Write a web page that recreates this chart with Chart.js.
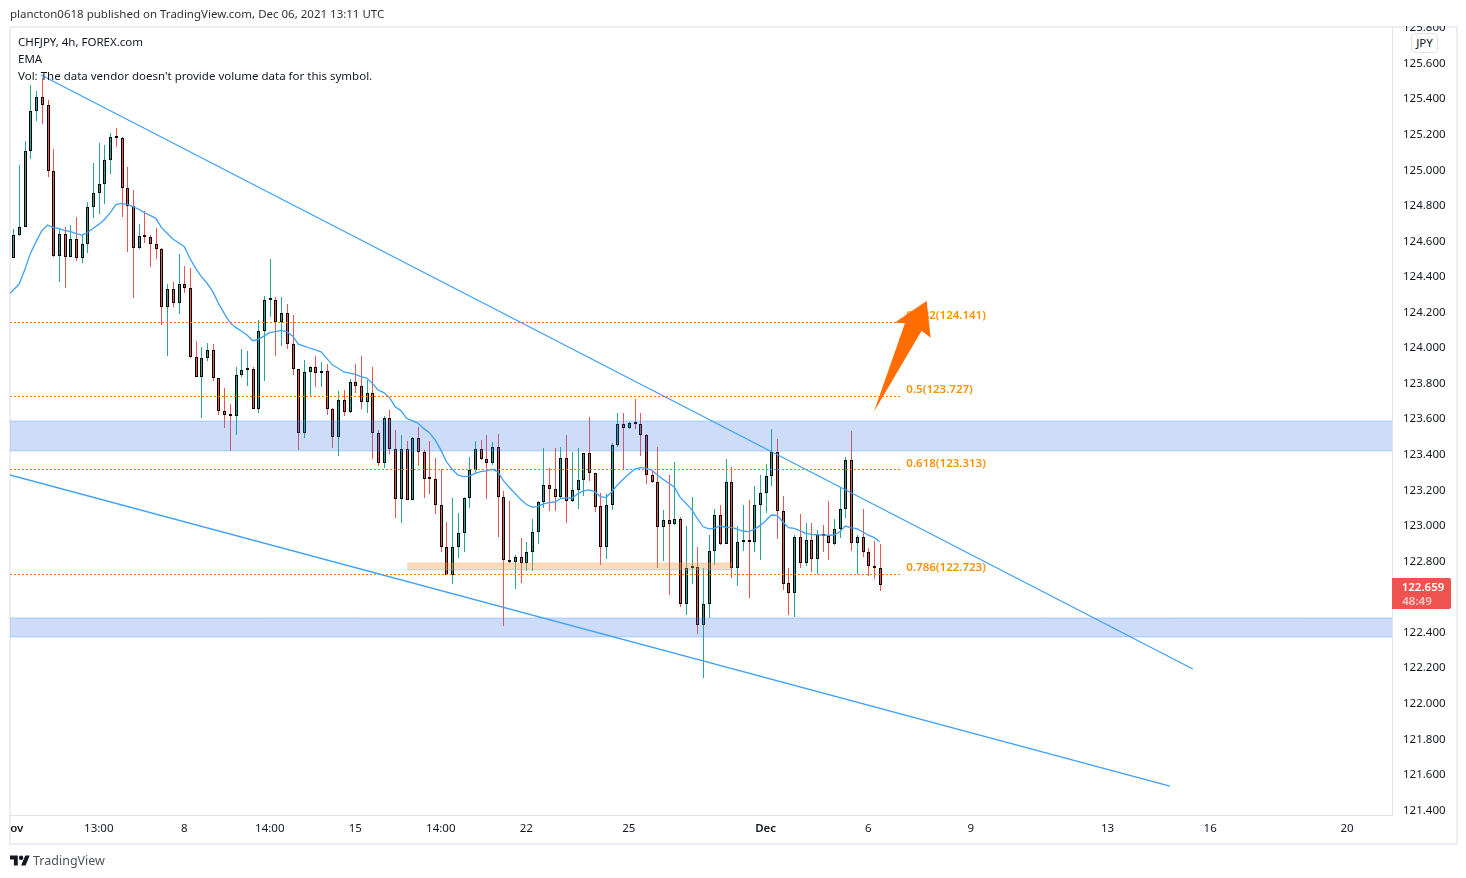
<!DOCTYPE html>
<html>
<head>
<meta charset="utf-8">
<title>CHFJPY</title>
<script src="https://cdn.jsdelivr.net/npm/chart.js@4/dist/chart.umd.min.js"></script>
<style>
html, body { margin: 0; padding: 0; background: #fff; }
body { width: 1466px; height: 878px; position: relative; overflow: hidden; font-family: "Noto Sans", sans-serif; color: #131722; font-size: 11.5px; }
canvas { position: absolute; left: 0; top: 0; }
.txt { position: absolute; white-space: nowrap; line-height: 16px; z-index: 5; }
#frame { position: absolute; left: 9px; top: 26px; width: 1445px; height: 815px; border: 2px solid #eceef3; z-index: 0; }
#cover { position: absolute; left: 1393px; top: 0; width: 64px; height: 26px; background: #fff; z-index: 3; }
#cur { position: absolute; left: 1411px; top: 33px; width: 25px; height: 18px; line-height: 18px; text-align: center; background: #fff; border: 1px solid #e0e3eb; border-radius: 4px; z-index: 5; }
</style>
</head>
<body>
<div id="frame"></div>
<canvas id="chart" width="1466" height="878"></canvas>
<div id="cover"></div>
<div class="txt" style="left:10px;top:6px;color:#333">plancton0618 published on TradingView.com, Dec 06, 2021 13:11 UTC</div>
<div class="txt" style="left:18px;top:34px">CHFJPY, 4h, FOREX.com</div>
<div class="txt" style="left:18px;top:51px">EMA</div>
<div class="txt" style="left:18px;top:68px">Vol: The data vendor doesn't provide volume data for this symbol.</div>
<div id="cur">JPY</div>
<svg style="position:absolute;left:10px;top:854px;z-index:5" width="20" height="13" viewBox="0 3 36 20"><path fill="#131722" d="M14 22H7V11H0V4h14v18zM28 22h-8l7.5-18h8L28 22z"/><circle fill="#131722" cx="20" cy="8" r="4"/></svg>
<div class="txt" style="left:33px;top:853px;font-size:12.5px;color:#50535e">TradingView</div>
<script>
const openValues = [124.500,124.625,124.670,125.098,125.323,125.401,125.356,124.985,124.507,124.631,
  124.502,124.603,124.496,124.575,124.783,124.862,124.912,125.047,125.176,125.171,
  124.890,124.790,124.552,124.620,124.614,124.575,124.547,124.221,124.322,124.243,
  124.350,124.327,123.939,123.827,123.934,123.979,123.821,123.636,123.617,123.608,
  123.838,123.866,123.872,123.647,124.086,124.260,124.260,124.136,124.187,124.013,
  123.872,123.512,123.855,123.883,123.850,123.861,123.647,123.490,123.698,123.630,
  123.799,123.777,123.687,123.737,123.512,123.344,123.597,123.424,123.145,123.422,
  123.139,123.484,123.405,123.258,123.257,123.111,122.875,122.717,122.871,122.950,
  123.147,123.304,123.422,123.366,123.347,123.433,123.152,122.802,122.787,122.815,
  122.781,122.843,122.955,123.124,123.220,123.197,123.156,123.372,123.130,123.192,
  123.248,123.400,123.287,123.102,122.875,123.107,123.445,123.563,123.540,123.568,
  123.563,123.501,123.276,123.237,122.984,123.023,123.001,123.029,122.551,122.753,
  122.759,122.433,122.551,122.849,123.051,122.888,123.237,122.757,122.899,122.910,
  122.899,123.107,123.175,123.270,123.405,123.074,122.669,122.612,122.927,122.785,
  122.910,122.804,122.938,122.933,122.890,122.972,123.085,123.360,122.894,122.927,
  122.843,122.764,122.753];
const highValues = [124.659,125.021,125.156,125.471,125.437,125.508,125.386,125.109,124.659,124.670,
  124.683,124.728,124.627,124.811,125.032,125.145,125.133,125.199,125.227,125.176,
  125.008,124.878,124.687,124.760,124.625,124.665,124.554,124.352,124.363,124.521,
  124.453,124.442,124.031,123.996,124.020,124.014,123.821,123.767,123.677,123.885,
  123.986,123.975,123.883,124.148,124.283,124.492,124.279,124.279,124.239,124.178,
  123.872,123.925,123.889,123.947,123.913,123.900,123.653,123.750,123.756,123.816,
  123.902,123.947,123.812,123.885,123.529,123.610,123.643,123.529,123.501,123.469,
  123.494,123.548,123.419,123.469,123.372,123.310,123.014,123.149,123.064,123.154,
  123.379,123.469,123.475,123.501,123.464,123.507,123.186,123.132,122.828,122.922,
  122.899,123.031,123.132,123.428,123.315,123.428,123.435,123.501,123.407,123.430,
  123.400,123.604,123.287,123.175,123.169,123.458,123.626,123.626,123.574,123.705,
  123.626,123.508,123.306,123.435,123.081,123.278,123.351,123.042,122.991,123.154,
  122.873,122.755,122.941,123.087,123.109,123.368,123.323,122.991,123.109,123.137,
  123.216,123.278,123.340,123.536,123.480,123.160,122.755,122.940,123.058,123.008,
  123.008,122.968,122.997,123.132,123.030,123.210,123.379,123.525,122.938,123.087,
  122.867,122.907,122.890];
const lowValues = [124.496,124.624,124.670,125.057,125.268,125.253,124.955,124.506,124.365,124.331,
  124.502,124.483,124.472,124.528,124.725,124.747,124.802,124.972,125.124,124.730,
  124.534,124.275,124.549,124.584,124.449,124.491,124.121,123.947,124.224,124.183,
  124.303,123.934,123.827,123.600,123.919,123.808,123.615,123.544,123.415,123.503,
  123.831,123.780,123.647,123.628,123.808,124.168,123.947,124.005,123.988,123.842,
  123.419,123.488,123.722,123.773,123.773,123.617,123.430,123.387,123.612,123.628,
  123.737,123.651,123.628,123.366,123.330,123.319,123.396,123.036,123.008,123.137,
  123.137,123.329,123.149,123.171,123.059,122.845,122.716,122.665,122.813,122.845,
  123.092,123.287,123.362,123.143,123.334,122.929,122.429,122.783,122.637,122.671,
  122.738,122.738,122.890,123.092,123.077,123.075,123.147,123.008,123.128,123.087,
  123.160,123.246,123.072,122.772,122.806,123.081,123.437,123.312,123.535,123.537,
  123.385,123.227,123.233,122.755,122.794,122.603,122.999,122.536,122.491,122.665,
  122.384,122.137,122.474,122.772,122.884,122.888,122.699,122.654,122.850,122.586,
  122.845,122.800,123.064,123.216,122.918,122.631,122.491,122.479,122.755,122.766,
  122.732,122.719,122.845,122.800,122.884,122.923,123.036,122.850,122.721,122.817,
  122.710,122.693,122.626];
const closeValues = [124.625,124.670,125.098,125.323,125.401,125.356,124.985,124.507,124.631,124.502,
  124.603,124.496,124.575,124.783,124.862,124.912,125.047,125.176,125.171,124.890,
  124.790,124.552,124.620,124.614,124.575,124.547,124.221,124.322,124.243,124.350,
  124.327,123.939,123.827,123.934,123.979,123.821,123.636,123.617,123.608,123.838,
  123.866,123.872,123.647,124.086,124.260,124.262,124.136,124.187,124.013,123.872,
  123.512,123.855,123.883,123.850,123.861,123.647,123.490,123.698,123.630,123.799,
  123.777,123.687,123.737,123.512,123.344,123.597,123.424,123.145,123.422,123.139,
  123.484,123.405,123.257,123.257,123.111,122.875,122.717,122.871,122.950,123.147,
  123.304,123.422,123.366,123.347,123.433,123.152,122.802,122.787,122.815,122.781,
  122.843,122.955,123.124,123.220,123.197,123.156,123.372,123.130,123.192,123.248,
  123.400,123.287,123.100,122.875,123.107,123.445,123.563,123.540,123.568,123.563,
  123.501,123.276,123.237,122.984,123.023,123.001,123.029,122.551,122.753,122.759,
  122.433,122.551,122.849,123.051,122.888,123.237,122.757,122.899,122.910,122.899,
  123.107,123.175,123.270,123.407,123.074,122.667,122.612,122.927,122.785,122.910,
  122.804,122.938,122.933,122.894,122.972,123.085,123.360,122.894,122.927,122.843,
  122.764,122.753,122.659];
const emaValues = [124.318,124.350,124.431,124.524,124.590,124.652,124.684,124.669,124.665,124.652,
  124.648,124.635,124.627,124.640,124.665,124.687,124.715,124.753,124.798,124.805,
  124.800,124.787,124.772,124.753,124.738,124.721,124.669,124.637,124.605,124.584,
  124.562,124.496,124.440,124.393,124.356,124.309,124.243,124.187,124.136,124.108,
  124.088,124.065,124.033,124.041,124.060,124.078,124.084,124.091,124.084,124.060,
  124.014,124.003,123.992,123.981,123.970,123.934,123.896,123.878,123.857,123.851,
  123.844,123.831,123.823,123.793,123.756,123.741,123.713,123.662,123.640,123.597,
  123.584,123.569,123.540,123.516,123.475,123.419,123.353,123.310,123.278,123.269,
  123.272,123.287,123.297,123.301,123.310,123.297,123.246,123.209,123.175,123.141,
  123.113,123.098,123.100,123.115,123.122,123.126,123.145,123.149,123.147,123.171,
  123.188,123.194,123.184,123.156,123.151,123.184,123.222,123.254,123.284,123.310,
  123.319,123.316,123.306,123.278,123.254,123.231,123.209,123.152,123.119,123.085,
  123.034,122.988,122.975,122.978,122.991,122.984,122.983,122.974,122.963,122.959,
  122.972,122.993,123.021,123.053,123.051,123.015,122.982,122.978,122.965,122.950,
  122.944,122.942,122.940,122.939,122.940,122.959,122.991,122.981,122.976,122.959,
  122.940,122.927,122.903];
const emaStart = 124.299;

const priceTicks = [121.4,121.6,121.8,122,122.2,122.4,122.6,122.8,123,123.2,123.4,123.6,123.8,124,124.2,124.4,124.6,124.8,125,125.2,125.4,125.6,125.8];
const timeTicks = [0.6,15,30,45,60,75,90,108,132,150,168,192,210,234];
const timeLabels = ['ov','13:00','8','14:00','15','14:00','22','25','Dec','6','9','13','16','20'];

const fibLevels = [124.141,123.727,123.313,122.723];
const fibNames = ['0.382','0.5','0.618','0.786'];
const upperTrend = [[4.86,125.527],[206.96,122.187]];
const lowerTrend = [[-0.58,123.278],[202.93,121.529]];
const zoneUpper = [123.5815,123.413];
const zoneLower = [122.474,122.367];
const zoneOrange = [122.783,122.744];
const orangeFrom = 69.1, orangeTo = 126.1;
const arrowShape = [[160.25,124.256],[154.68,124.136],[156.44,124.131],[151.0,123.634],[159.37,124.089],[160.95,124.050]];
const lastPrice = '122.659', countdown = '48:49';

const X_MIN = -0.58, X_MAX = 241.9, Y_MIN = 121.366, Y_MAX = 125.797, FIB_END = 155.9;
const UP = '#26a69a', DOWN = '#ef5350', LINE = '#3fa0f5', ORANGE = '#f57c00', FIB_TEXT = '#ff9100';
const TICK_FONT = 'Noto Sans';

const isUp = i => closeValues[i] >= openValues[i];
const pts = pairs => pairs.map(p => ({ x: p[0], y: p[1] }));

const wickSet = {
  type: 'bar', order: 5, grouped: false, barThickness: 1, inflateAmount: 0,
  data: highValues.map((h, i) => ({ x: i, y: [lowValues[i], h] })),
  backgroundColor: highValues.map((h, i) => isUp(i) ? UP : DOWN),
  borderWidth: 0
};
const bodySet = {
  type: 'bar', order: 4, grouped: false, barThickness: 3, minBarLength: 2, inflateAmount: 0,
  data: openValues.map((o, i) => ({ x: i, y: [o, closeValues[i]] })),
  backgroundColor: openValues.map((o, i) => isUp(i) ? UP : DOWN),
  borderColor: '#000', borderWidth: 1, borderSkipped: false
};
function lineSet(points, color, extra) {
  return Object.assign({ type: 'line', order: 1, data: pts(points), borderColor: color, borderWidth: 1.3, pointRadius: 0, tension: 0, fill: false }, extra || {});
}
function zoneSets(range, from, to, edge, fillColor) {
  return [
    lineSet([[from, range[0]], [to, range[0]]], edge, { order: 2, borderWidth: 1, fill: '+1', backgroundColor: fillColor }),
    lineSet([[from, range[1]], [to, range[1]]], edge, { order: 2, borderWidth: 1 })
  ];
}

const datasets = [
  wickSet, bodySet,
  ...zoneSets(zoneUpper, X_MIN, X_MAX, 'rgba(66,150,245,0.35)', 'rgba(55,119,231,0.25)'),
  ...zoneSets(zoneLower, X_MIN, X_MAX, 'rgba(66,150,245,0.35)', 'rgba(55,119,231,0.25)'),
  ...zoneSets(zoneOrange, orangeFrom, orangeTo, 'rgba(245,160,80,0.35)', 'rgba(245,150,60,0.35)'),
  ...fibLevels.map(v => lineSet([[X_MIN, v], [FIB_END, v]], ORANGE, { order: 3, borderWidth: 1, borderDash: [2, 2], snapRow: true })),
  lineSet([[X_MIN, emaStart]].concat(emaValues.map((v, i) => [i, v])), LINE),
  lineSet(upperTrend, LINE),
  lineSet(lowerTrend, LINE)
];

// snap candles and dotted levels to whole pixels so they stay crisp like the original
const snapPlugin = {
  id: 'snap',
  beforeDatasetDraw(chart, args) {
    if (args.meta.type === 'bar') {
      args.meta.data.forEach(el => {
        el.x = Math.round(el.x) + 0.5;
        el.y = Math.round(el.y);
        el.base = Math.round(el.base);
        if (el.y === el.base) el.base = el.y + 1;
      });
    } else if (chart.data.datasets[args.index].snapRow) {
      args.meta.data.forEach(el => { el.y = Math.ceil(el.y) + 0.5; });
    }
  }
};

const overlayPlugin = {
  id: 'overlay',
  afterDatasetsDraw(chart) {
    const { ctx, scales: { x, y } } = chart;
    ctx.save();
    ctx.font = '600 11.5px "' + TICK_FONT + '"';
    ctx.fillStyle = FIB_TEXT;
    ctx.textBaseline = 'middle';
    fibLevels.forEach((v, i) => {
      ctx.fillText(fibNames[i] + '(' + v.toFixed(3) + ')', x.getPixelForValue(FIB_END) + 4.5, y.getPixelForValue(v) - 5.5);
    });
    ctx.fillStyle = '#ff6d00';
    ctx.beginPath();
    arrowShape.forEach((p, i) => {
      const px = x.getPixelForValue(p[0]), py = y.getPixelForValue(p[1]);
      if (i) ctx.lineTo(px, py); else ctx.moveTo(px, py);
    });
    ctx.closePath();
    ctx.fill();

    const py = y.getPixelForValue(parseFloat(lastPrice));
    ctx.fillStyle = DOWN;
    ctx.beginPath();
    ctx.roundRect(chart.chartArea.right, Math.round(py) - 7, 59, 31, [0, 2, 2, 0]);
    ctx.fill();
    ctx.textAlign = 'center';
    ctx.fillStyle = '#fff';
    ctx.font = '600 11.5px "' + TICK_FONT + '"';
    ctx.fillText(lastPrice, chart.chartArea.right + 31, Math.round(py) + 3);
    ctx.fillStyle = 'rgba(255,255,255,0.7)';
    ctx.fillText(countdown, chart.chartArea.right + 25, Math.round(py) + 17);
    ctx.restore();
  }
};

new Chart(document.getElementById('chart'), {
  data: { datasets },
  plugins: [snapPlugin, overlayPlugin],
  options: {
    responsive: false,
    animation: false,
    devicePixelRatio: 1,
    events: [],
    layout: { padding: { left: 10, right: 10, top: 27, bottom: 35 } },
    plugins: { legend: { display: false }, tooltip: { enabled: false } },
    scales: {
      x: {
        type: 'linear', min: X_MIN, max: X_MAX, offset: false,
        grid: { display: false, drawTicks: false },
        border: { display: true, color: '#e0e3eb' },
        afterBuildTicks: s => { s.ticks = timeTicks.map(v => ({ value: v })); },
        afterFit: s => { s.height = 28; },
        ticks: {
          autoSkip: false, maxRotation: 0, padding: 7, color: '#131722',
          font: c => ({ family: TICK_FONT, size: 11.5, weight: (c.index === 0 || c.index === 8) ? '600' : '400' }),
          callback: (v, i) => timeLabels[i]
        }
      },
      y: {
        type: 'linear', position: 'right', min: Y_MIN, max: Y_MAX,
        grid: { display: false, drawTicks: false },
        border: { display: true, color: '#e0e3eb' },
        afterBuildTicks: s => { s.ticks = priceTicks.map(v => ({ value: v })); },
        afterFit: s => { s.width = 64; },
        ticks: {
          autoSkip: false, padding: 11, labelOffset: 1.5, color: '#131722',
          font: { family: TICK_FONT, size: 11.5 },
          callback: v => v.toFixed(3)
        }
      }
    }
  }
});
</script>
</body>
</html>
